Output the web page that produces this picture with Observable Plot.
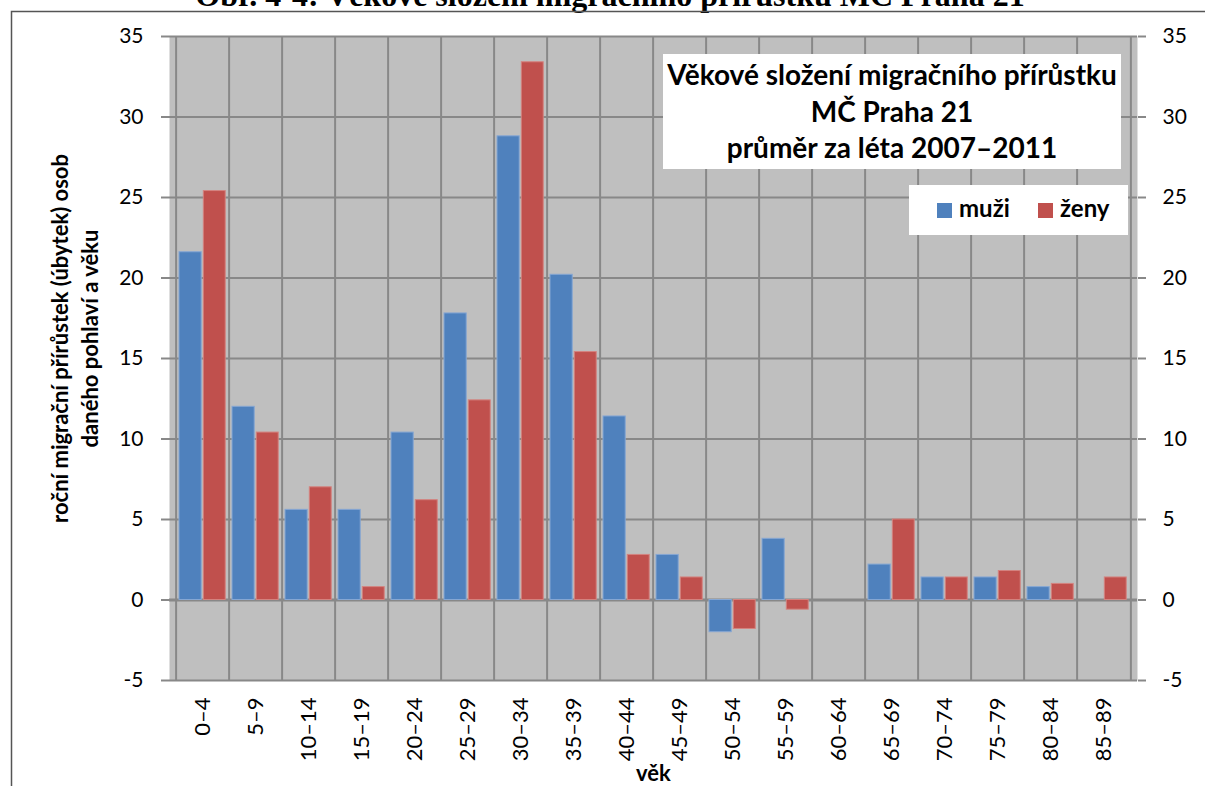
<!DOCTYPE html>
<html>
<head>
<meta charset="utf-8">
<script src="https://cdn.jsdelivr.net/npm/d3@7"></script>
<script src="https://cdn.jsdelivr.net/npm/@observablehq/plot@0.6"></script>
<style>
  body { margin: 0; background: #fff; }
  #wrap { position: relative; width: 1205px; height: 786px; overflow: hidden; font-family: Lato, sans-serif; }
  #chart { position: absolute; left: 0; top: 0; }
  #overlay { position: absolute; left: 0; top: 0; pointer-events: none; }
</style>
</head>
<body>
<div id="wrap">
  <div id="chart"></div>
</div>
<script>
// ---- data ----
const ages = ["0–4","5–9","10–14","15–19","20–24","25–29","30–34","35–39","40–44","45–49","50–54","55–59","60–64","65–69","70–74","75–79","80–84","85–89"];
const muzi = [21.6, 12.0, 5.6, 5.6, 10.4, 17.8, 28.8, 20.2, 11.4, 2.8, -2.0, 3.8, 0, 2.2, 1.4, 1.4, 0.8, 0];
const zeny = [25.4, 10.4, 7.0, 0.8, 6.2, 12.4, 33.4, 15.4, 2.8, 1.4, -1.8, -0.6, 0, 5.0, 1.4, 1.8, 1.0, 1.4];
const series = ["muži", "ženy"];
const colors = ["#4F81BD", "#C0504D"];
const yTicks = [-5, 0, 5, 10, 15, 20, 25, 30, 35];
const docTitle = "Obr. 4-4: Věkové složení migračního přírůstku MČ Praha 21";
const chartTitle = ["Věkové složení migračního přírůstku", "MČ Praha 21", "průměr za léta 2007–2011"];
const yLabel = "roční migrační přírůstek (úbytek) osob\ndaného pohlaví a věku";
const xLabel = "věk";

// ---- layout ----
const W = 1205, H = 786;
const mL = 169, mR = 68, mT = 36, mB = 106;
const step = (W - mL - mR) / ages.length;
const grid = "#888888";

const rows = [
  ...ages.map((a, i) => ({age: a, sex: series[0], value: muzi[i]})),
  ...ages.map((a, i) => ({age: a, sex: series[1], value: zeny[i]}))
];

const chart = Plot.plot({
  width: W, height: H,
  marginLeft: mL, marginRight: mR, marginTop: mT, marginBottom: mB,
  style: {fontFamily: "Lato, sans-serif", fontSize: "21px", color: "#000", background: "transparent", overflow: "visible"},
  x: {type: "band", domain: ages, padding: 0, label: null},
  y: {domain: [-5, 35], label: null},
  color: {domain: series, range: colors},
  marks: [
    Plot.frame({fill: "#BFBFBF", stroke: null}),
    Plot.ruleY(yTicks, {stroke: grid, strokeWidth: 2}),
    Plot.ruleX(ages, {x: d => d, dx: -step / 2, stroke: grid, strokeWidth: 2}),
    Plot.ruleX([ages[ages.length - 1]], {x: d => d, dx: step / 2, stroke: grid, strokeWidth: 2}),
    Plot.ruleY([0], {stroke: grid, strokeWidth: 3}),
    Plot.barY(rows.filter(d => d.sex === series[0]), {
      x: "age", y: "value", fill: "sex", stroke: "#86A7D3", strokeWidth: 1,
      insetLeft: 3, insetRight: step - 26
    }),
    Plot.barY(rows.filter(d => d.sex === series[1]), {
      x: "age", y: "value", fill: "sex", stroke: "#D4837F", strokeWidth: 1,
      insetLeft: 27.3, insetRight: step - 50
    }),
    Plot.axisY({anchor: "left", ticks: yTicks, tickSize: 8, tickPadding: 18, tickFormat: d => String(d), stroke: grid, strokeWidth: 2, label: null, fontSize: 21}),
    Plot.axisY({anchor: "right", ticks: yTicks, tickSize: 8, tickPadding: 17, tickFormat: d => String(d), stroke: grid, strokeWidth: 2, label: null, fontSize: 21}),
    Plot.axisX({anchor: "bottom", tickSize: 0, tickPadding: 17, tickRotate: -90, label: null, fontSize: 22}),
    Plot.text([yLabel], {text: d => d, frameAnchor: "left", textAnchor: "middle", rotate: -90, dx: -96, dy: -20, fontWeight: "bold", fontSize: 22, lineHeight: 1.36}),
    Plot.text([xLabel], {text: d => d, frameAnchor: "bottom", dy: 100, fontWeight: "bold", fontSize: 22})
  ]
});
document.getElementById("chart").appendChild(chart);

// ---- overlay: document title, frame, in-chart title box, legend ----
const ov = d3.select("#wrap").append("svg").attr("id", "overlay").attr("width", W).attr("height", H);
ov.append("text").attr("x", 610).attr("y", 5.5).attr("text-anchor", "middle")
  .attr("font-family", "'Liberation Serif', 'Times New Roman', serif").attr("font-weight", "bold")
  .attr("font-size", 32).text(docTitle);
ov.append("path").attr("d", `M11.5,${H + 5}V11.5H${W + 5}`).attr("fill", "none").attr("stroke", "#555").attr("stroke-width", 1.5);

ov.append("rect").attr("x", 663).attr("y", 54).attr("width", 458).attr("height", 115).attr("fill", "#fff");
const tb = [85.4, 121.7, 157.7];
chartTitle.forEach((t, i) => {
  ov.append("text").attr("x", 892).attr("y", tb[i]).attr("text-anchor", "middle")
    .attr("font-family", "Lato, sans-serif").attr("font-weight", "bold").attr("font-size", 28).text(t);
});

ov.append("rect").attr("x", 909).attr("y", 185).attr("width", 219).attr("height", 50).attr("fill", "#fff");
const lx = [937, 1038];
series.forEach((s, i) => {
  ov.append("rect").attr("x", lx[i]).attr("y", 203).attr("width", 15).attr("height", 15).attr("fill", colors[i]);
  ov.append("text").attr("x", lx[i] + 22).attr("y", 217).attr("font-family", "Lato, sans-serif")
    .attr("font-weight", "bold").attr("font-size", 24).text(s);
});
</script>
</body>
</html>
